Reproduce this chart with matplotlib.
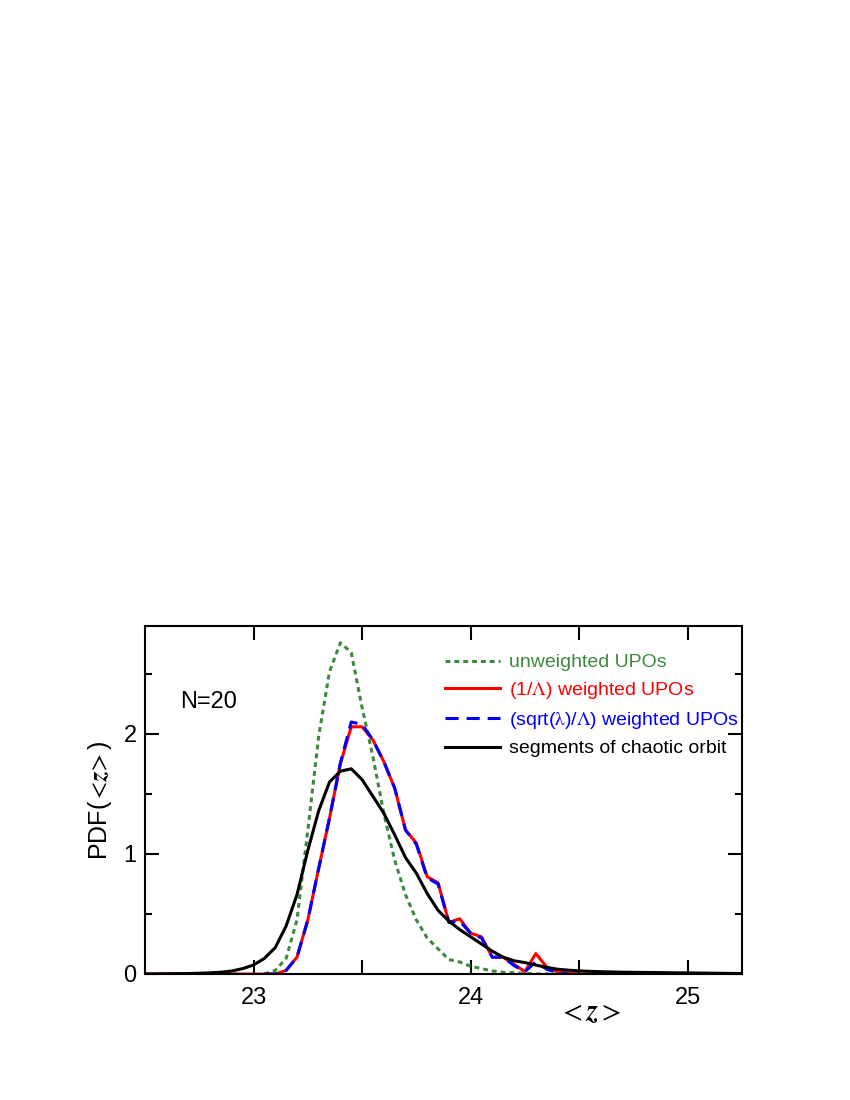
import matplotlib.pyplot as plt
import numpy as np

plt.rcParams["font.family"] = ["Liberation Sans", "DejaVu Sans"]
plt.rcParams["mathtext.fontset"] = "stix"

# bin centres of <z>
z = np.round(22.5 + 0.05 * np.arange(56), 2)

# segments of chaotic orbit (whole range)
chaotic = [0.000, 0.001, 0.002, 0.003, 0.004, 0.006, 0.010, 0.015, 0.025, 0.045,
           0.075, 0.13, 0.22, 0.40, 0.66, 1.03, 1.36, 1.60, 1.69, 1.71,
           1.62, 1.48, 1.34, 1.16, 0.97, 0.84, 0.67, 0.53, 0.44, 0.37,
           0.31, 0.25, 0.19, 0.14, 0.11, 0.095, 0.075, 0.055, 0.040, 0.032,
           0.026, 0.022, 0.019, 0.017, 0.015, 0.014, 0.013, 0.012, 0.011, 0.010,
           0.009, 0.008, 0.007, 0.006, 0.005, 0.004]

# (1/Lambda) weighted UPOs (whole range)
inv_lambda = [0, 0, 0, 0, 0, 0, 0, 0, 0, 0,
              0, 0, 0, 0.03, 0.14, 0.45, 0.88, 1.30, 1.75, 2.06,
              2.06, 1.95, 1.77, 1.55, 1.20, 1.09, 0.81, 0.76, 0.43, 0.46,
              0.34, 0.31, 0.14, 0.14, 0.08, 0.02, 0.17, 0.06, 0.02, 0.01,
              0, 0, 0, 0, 0, 0, 0, 0, 0, 0,
              0, 0, 0, 0, 0, 0]

# (sqrt(lambda)/Lambda) weighted UPOs, 23.05 .. 24.45
sqrt_lambda = [0, 0, 0.03, 0.14, 0.45, 0.88, 1.30, 1.76, 2.10, 2.08,
               1.95, 1.77, 1.55, 1.20, 1.08, 0.80, 0.75, 0.43, 0.44, 0.34,
               0.30, 0.14, 0.14, 0.07, 0.02, 0.10, 0.04, 0.01, 0]

# unweighted UPOs, 23.05 .. 24.50
unweighted = [0.0, 0.03, 0.13, 0.45, 1.20, 1.98, 2.52, 2.76, 2.68, 2.22,
              1.81, 1.34, 0.95, 0.66, 0.45, 0.30, 0.21, 0.12, 0.10, 0.065,
              0.045, 0.025, 0.015, 0.010, 0.005, 0.0, 0.0, 0.0, 0.0, 0.0]

labels = ["unweighted UPOs", r"(1/$\mathrm{\Lambda}$) weighted UPOs",
          r"(sqrt($\mathrm{\lambda}$)/$\mathrm{\Lambda}$) weighted UPOs", "segments of chaotic orbit"]
colors = ["#3d8a3d", "#ff0000", "#0000ff", "#000000"]

xticks = [23, 23.5, 24, 24.5, 25]
xticklabels = ["23", "", "24", "", "25"]
yticks = [0, 1, 2]

fig = plt.figure(figsize=(8.5, 11), dpi=100)
ax = fig.add_axes([145 / 850, 126 / 1100, 597 / 850, 348 / 1100])

ax.plot(z[11:41], unweighted, color=colors[0], lw=2.2, ls=(0, (1.6, 1.3)), label=labels[0])
ax.plot(z, inv_lambda, color=colors[1], lw=2.2, label=labels[1])
ax.plot(z[11:40], sqrt_lambda, color=colors[2], lw=2.2, ls=(0, (4.3, 2.6)), label=labels[2])
ax.plot(z, chaotic, color=colors[3], lw=2.2, label=labels[3])

ax.set_xlim(22.5, 25.25)
ax.set_ylim(0, 2.9)
ax.set_xticks(xticks)
ax.set_xticklabels(xticklabels)
ax.set_yticks(yticks)
ax.set_yticks([0.5, 1.5, 2.5], minor=True)
ax.tick_params(axis="both", which="both", direction="in", top=True, right=True,
               width=1.5, labelsize=17)
ax.tick_params(axis="both", which="major", length=10)
ax.tick_params(axis="y", which="minor", length=5)
ax.tick_params(axis="x", pad=9)
ax.tick_params(axis="y", pad=6)
for side in ax.spines.values():
    side.set_linewidth(1.5)

ax.set_ylabel(r"PDF($<\!\boldsymbol{z}\!>$)", fontsize=18, labelpad=7)
ax.set_xlabel(r"$<\boldsymbol{z}>$", fontsize=21)
ax.xaxis.set_label_coords(0.745, -0.07)

ax.text(0.059, 0.782, "N=20", transform=ax.transAxes, fontsize=17, ha="left", va="center")

leg = ax.legend(loc="upper left", bbox_to_anchor=(0.503, 0.92), frameon=False, fontsize=14,
                handlelength=2.8, handletextpad=0.5, labelspacing=0.45,
                borderpad=0, borderaxespad=0)
for txt, c in zip(leg.get_texts(), colors):
    txt.set_color(c)

fig.savefig("out.png", dpi=100)
